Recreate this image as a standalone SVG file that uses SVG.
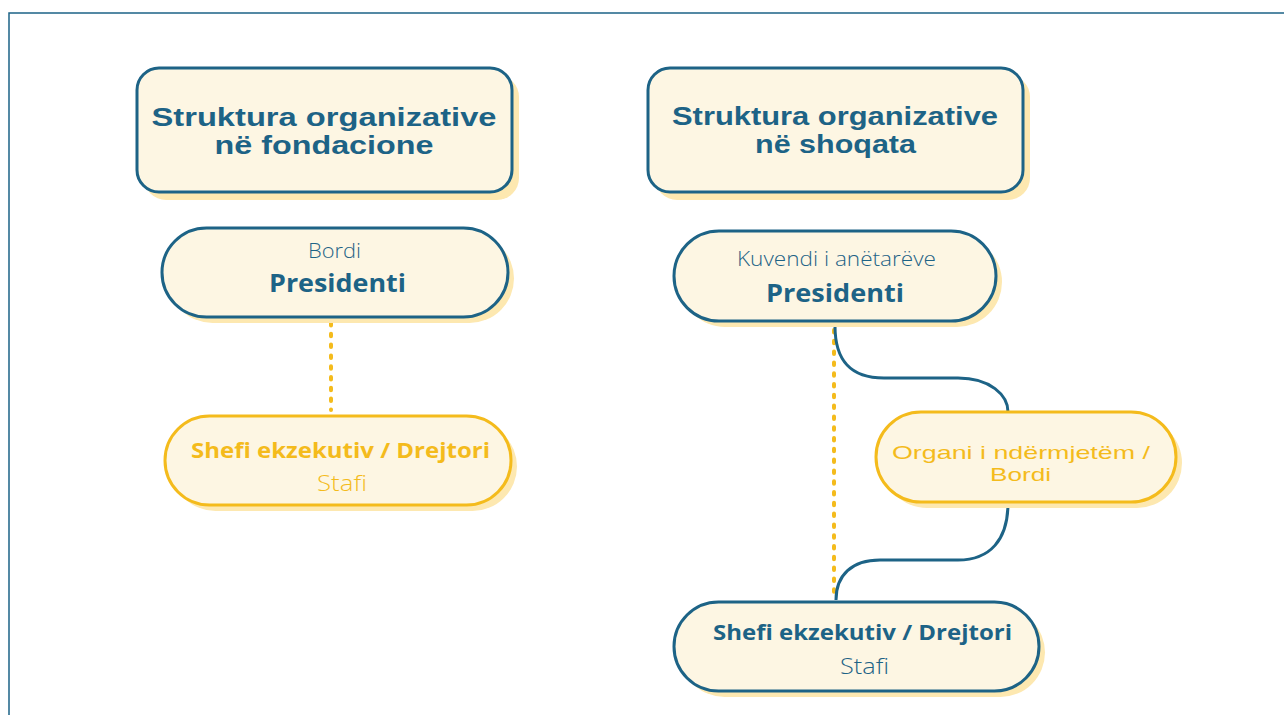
<svg xmlns="http://www.w3.org/2000/svg" width="1284" height="715" viewBox="0 0 1284 715">
<style>
.box{fill:#fdf6e3;stroke-width:3}
.b{stroke:#1d6386}
.y{stroke:#f4bb1c}
.sh{fill:#fde8b0}
text{font-family:"Open Sans","Noto Sans",sans-serif;text-anchor:middle}
.title{font-family:"Liberation Sans",Arial,sans-serif;font-size:25px;font-weight:700;fill:#1d6386}
.big{font-size:25px;font-weight:700;fill:#1d6386}
.light{font-size:20px;font-weight:300;fill:#1d6386}
.ybold{font-size:22px;font-weight:700;fill:#f4bb1c}
.ylight{font-size:22px;font-weight:300;fill:#f4bb1c}
.ylight2{font-family:"Liberation Sans",Arial,sans-serif;font-size:18.5px;fill:#f4bb1c}
.dot{fill:none;stroke:#f4bb1c;stroke-width:4;stroke-dasharray:2.5 8.3;stroke-linecap:round}
.curve{fill:none;stroke:#1d6386;stroke-width:3}
</style>
<rect width="1284" height="715" fill="#fff"/>
<rect x="9" y="13" width="1290" height="720" fill="none" stroke="#1d6386" stroke-width="1.5"/>

<g id="connectors">
<line class="dot" x1="331" y1="323" x2="331" y2="410"/>
<line class="dot" x1="834" y1="330" x2="834" y2="598"/>
<path class="curve" d="M835,326 C835,360 850,378 884,378 L958,378 C990,378 1008,395 1008,412"/>
<path class="curve" d="M1008,503 C1008,540 990,560 958,560 L880,560 C852,560 836,575 836,600"/>
</g>

<g id="title-fondacione">
<rect class="sh" x="144" y="75" width="375" height="125" rx="22"/>
<rect class="box b" x="137" y="68" width="375" height="124" rx="22"/>
<text class="title" x="324" y="126" textLength="345" lengthAdjust="spacingAndGlyphs">Struktura organizative</text>
<text class="title" x="324" y="154" textLength="219" lengthAdjust="spacingAndGlyphs">në fondacione</text>
</g>

<g id="f-presidenti">
<rect class="sh" x="168" y="234" width="346" height="89" rx="44.5"/>
<rect class="box b" x="162" y="228" width="346" height="89" rx="44.5"/>
<text class="light" x="334.5" y="258" textLength="53" lengthAdjust="spacingAndGlyphs">Bordi</text>
<text class="big" x="337.5" y="292" textLength="137" lengthAdjust="spacingAndGlyphs">Presidenti</text>
</g>

<g id="f-shefi">
<rect class="sh" x="171" y="422" width="346" height="89" rx="44.5"/>
<rect class="box y" x="165" y="416" width="346" height="89" rx="44.5"/>
<text class="ybold" x="340.5" y="458" textLength="299" lengthAdjust="spacingAndGlyphs">Shefi ekzekutiv / Drejtori</text>
<text class="ylight" x="342" y="491" textLength="50" lengthAdjust="spacingAndGlyphs">Stafi</text>
</g>

<g id="title-shoqata">
<rect class="sh" x="655" y="75" width="375" height="125" rx="22"/>
<rect class="box b" x="648" y="68" width="375" height="124" rx="22"/>
<text class="title" x="835" y="125" textLength="326" lengthAdjust="spacingAndGlyphs">Struktura organizative</text>
<text class="title" x="835.5" y="153" textLength="161" lengthAdjust="spacingAndGlyphs">në shoqata</text>
</g>

<g id="s-presidenti">
<rect class="sh" x="680" y="237" width="322" height="90" rx="45"/>
<rect class="box b" x="674" y="231" width="322" height="90" rx="45"/>
<text class="light" x="836.5" y="266" textLength="199" lengthAdjust="spacingAndGlyphs">Kuvendi i anëtarëve</text>
<text class="big" x="835" y="302" textLength="138" lengthAdjust="spacingAndGlyphs">Presidenti</text>
</g>

<g id="s-organi">
<rect class="sh" x="882" y="418" width="300" height="90" rx="45"/>
<rect class="box y" x="876" y="412" width="300" height="90" rx="45"/>
<text class="ylight2" x="1021" y="459" textLength="258" lengthAdjust="spacingAndGlyphs">Organi i ndërmjetëm /</text>
<text class="ylight2" x="1020.5" y="480.5" textLength="61" lengthAdjust="spacingAndGlyphs">Bordi</text>
</g>

<g id="s-shefi">
<rect class="sh" x="680" y="608" width="365" height="89" rx="44.5"/>
<rect class="box b" x="674" y="602" width="365" height="89" rx="44.5"/>
<text class="big" x="862.5" y="640" style="font-size:22px" textLength="299" lengthAdjust="spacingAndGlyphs">Shefi ekzekutiv / Drejtori</text>
<text class="light" x="864.5" y="674" style="font-size:22px" textLength="49" lengthAdjust="spacingAndGlyphs">Stafi</text>
</g>
</svg>
